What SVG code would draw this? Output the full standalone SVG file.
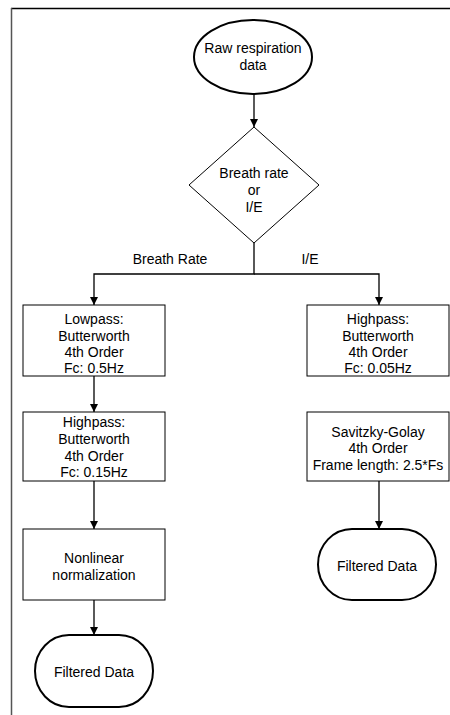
<svg xmlns="http://www.w3.org/2000/svg" width="450" height="715" viewBox="0 0 450 715">
<style>
text{font-family:"Liberation Sans",Arial,sans-serif;font-size:14px;fill:#000;text-anchor:middle}
.box{fill:#fff;stroke:#000;stroke-width:1}
.term{fill:#fff;stroke:#000;stroke-width:2}
.edge{fill:none;stroke:#000;stroke-width:1.3}
</style>
<defs>
<marker id="arr" viewBox="0 0 10 10" refX="10" refY="5" markerWidth="8" markerHeight="8" markerUnits="userSpaceOnUse" orient="auto">
<path d="M0,0 L10,5 L0,10 Z" fill="#000"/>
</marker>
</defs>
<rect width="450" height="715" fill="#fff"/>
<g id="frame">
<line x1="11" y1="8.5" x2="450" y2="8.5" stroke="#000" stroke-width="1.5"/>
<line x1="11.5" y1="8" x2="11.5" y2="715" stroke="#555" stroke-width="1.5"/>
</g>
<g id="connectors">
<line class="edge" x1="254" y1="94" x2="254" y2="127" marker-end="url(#arr)"/>
<polyline class="edge" points="254,243 254,274 94,274 94,305" marker-end="url(#arr)"/>
<polyline class="edge" points="254,274 379,274 379,305" marker-end="url(#arr)"/>
<line class="edge" x1="94" y1="376" x2="94" y2="412" marker-end="url(#arr)"/>
<line class="edge" x1="94" y1="481" x2="94" y2="529" marker-end="url(#arr)"/>
<line class="edge" x1="94" y1="600" x2="94" y2="635" marker-end="url(#arr)"/>
<line class="edge" x1="379" y1="481" x2="379" y2="529" marker-end="url(#arr)"/>
<text x="170" y="264">Breath Rate</text>
<text x="310" y="264">I/E</text>
</g>
<g id="start">
<ellipse class="term" cx="253" cy="57" rx="59" ry="37"/>
<text x="253" y="53">Raw respiration</text>
<text x="253" y="70">data</text>
</g>
<g id="decision">
<polygon class="box" points="254,127 319,185 254,243 189,185"/>
<text x="254" y="178">Breath rate</text>
<text x="254" y="195">or</text>
<text x="254" y="212">I/E</text>
</g>
<g id="lowpass">
<rect class="box" x="23" y="305" width="142" height="71"/>
<text x="94" y="324">Lowpass:</text>
<text x="94" y="341">Butterworth</text>
<text x="94" y="357">4th Order</text>
<text x="94" y="373">Fc: 0.5Hz</text>
</g>
<g id="highpass-br">
<rect class="box" x="23" y="412" width="142" height="69"/>
<text x="94" y="427">Highpass:</text>
<text x="94" y="444">Butterworth</text>
<text x="94" y="461">4th Order</text>
<text x="94" y="477">Fc: 0.15Hz</text>
</g>
<g id="nonlinear">
<rect class="box" x="23" y="529" width="142" height="71"/>
<text x="94" y="563">Nonlinear</text>
<text x="94" y="580">normalization</text>
</g>
<g id="filtered-left">
<rect class="term" x="35" y="635" width="118" height="72" rx="34" ry="36"/>
<text x="94" y="677">Filtered Data</text>
</g>
<g id="highpass-ie">
<rect class="box" x="307" y="305" width="142" height="71"/>
<text x="378" y="324">Highpass:</text>
<text x="378" y="341">Butterworth</text>
<text x="378" y="357">4th Order</text>
<text x="378" y="373">Fc: 0.05Hz</text>
</g>
<g id="savitzky">
<rect class="box" x="307" y="412" width="142" height="69"/>
<text x="378" y="437">Savitzky-Golay</text>
<text x="378" y="453">4th Order</text>
<text x="378" y="470">Frame length: 2.5*Fs</text>
</g>
<g id="filtered-right">
<rect class="term" x="318" y="529" width="118" height="71" rx="34" ry="35.5"/>
<text x="377" y="571">Filtered Data</text>
</g>
</svg>
